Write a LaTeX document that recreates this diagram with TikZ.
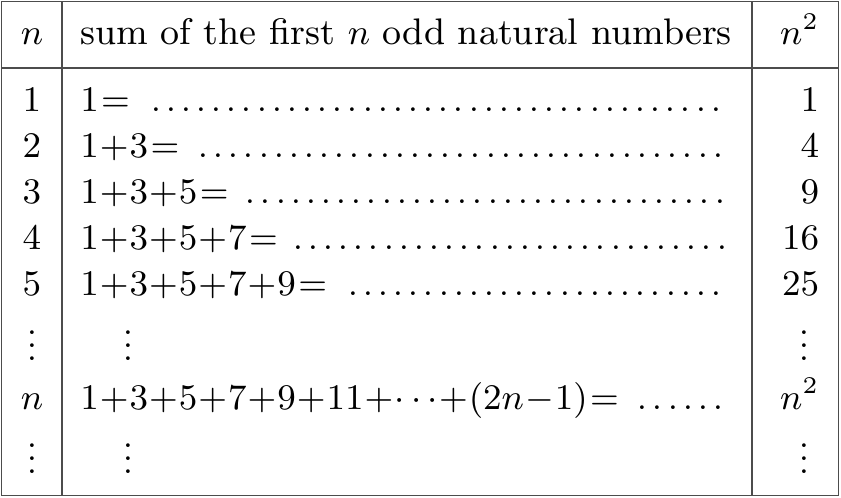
\documentclass[tikz,border=0pt]{standalone}
\usepackage{tikz}
\usetikzlibrary{positioning}
\usepackage{amsmath}

% tight math spacing as in the table
\medmuskip=0.5mu
\thickmuskip=1.2mu
\newcommand{\dotrow}[1]{\hbox to 162.5pt{$#1$\ \dotfill}}
\newcommand{\vdotz}{\vbox{\baselineskip3.25pt \lineskiplimit0pt \hbox{.}\hbox{.}\hbox{.}}}

\begin{document}
\begin{tikzpicture}[
    x=0.25pt, y=-0.25pt,
    head/.style={inner sep=0pt, font=\fontsize{9.25}{11}\selectfont},
    cell/.style={inner sep=0pt, font=\fontsize{8.6}{10}\selectfont},
    rule/.style={draw=black!70, line width=0.35pt}
]
    \useasboundingbox (0,0) rectangle (841,497);

    % Lines
    \draw[rule] (1.5,1.5) rectangle (838.5,495.5);
    \draw[rule] (62,1.5) -- (62,495.5);
    \draw[rule] (752,1.5) -- (752,495.5);
    \draw[rule] (1.5,68) -- (838.5,68);

    % Header
    \node[head, anchor=base] (hn) at (32,44.5) {$n$};
    \node[head, anchor=base] (hsum) at (406,44.5) {sum of the first $n$ odd natural numbers};
    \node[head, anchor=base east] (hsq) at (820,44.5) {$n^2$};

    % Rows
    \node[cell, anchor=base] (n1) at (32,111.7) {$1$};
    \node[cell, anchor=base west] (s1) at (79.5,111.7) {\dotrow{1=}};
    \node[cell, anchor=base east] (q1) at (820,111.7) {$1$};

    \node[cell, anchor=base] (n2) at (32,157.3) {$2$};
    \node[cell, anchor=base west] (s2) at (79.5,157.3) {\dotrow{1+3=}};
    \node[cell, anchor=base east] (q2) at (820,157.3) {$4$};

    \node[cell, anchor=base] (n3) at (32,203.3) {$3$};
    \node[cell, anchor=base west] (s3) at (79.5,203.3) {\dotrow{1+3+5=}};
    \node[cell, anchor=base east] (q3) at (820,203.3) {$9$};

    \node[cell, anchor=base] (n4) at (32,249) {$4$};
    \node[cell, anchor=base west] (s4) at (79.5,249) {\dotrow{1+3+5+7=}};
    \node[cell, anchor=base east] (q4) at (820,249) {$16$};

    \node[cell, anchor=base] (n5) at (32,295) {$5$};
    \node[cell, anchor=base west] (s5) at (79.5,295) {\dotrow{1+3+5+7+9=}};
    \node[cell, anchor=base east] (q5) at (820,295) {$25$};

    \node[cell, anchor=base] (v1) at (32,360) {\vdotz};
    \node[cell, anchor=base] (vs1) at (128,360) {\vdotz};
    \node[cell, anchor=base] (vq1) at (804,360) {\vdotz};

    \node[head, anchor=base] (nn) at (32,409) {$n$};
    \node[cell, anchor=base west] (sn) at (79.5,409) {\dotrow{1+3+5+7+9+11+\cdots+(2n-1)=}};
    \node[head, anchor=base east] (qn) at (820,409) {$n^2$};

    \node[cell, anchor=base] (v2) at (32,473) {\vdotz};
    \node[cell, anchor=base] (vs2) at (128,473) {\vdotz};
    \node[cell, anchor=base] (vq2) at (804,473) {\vdotz};

\end{tikzpicture}
\end{document}
